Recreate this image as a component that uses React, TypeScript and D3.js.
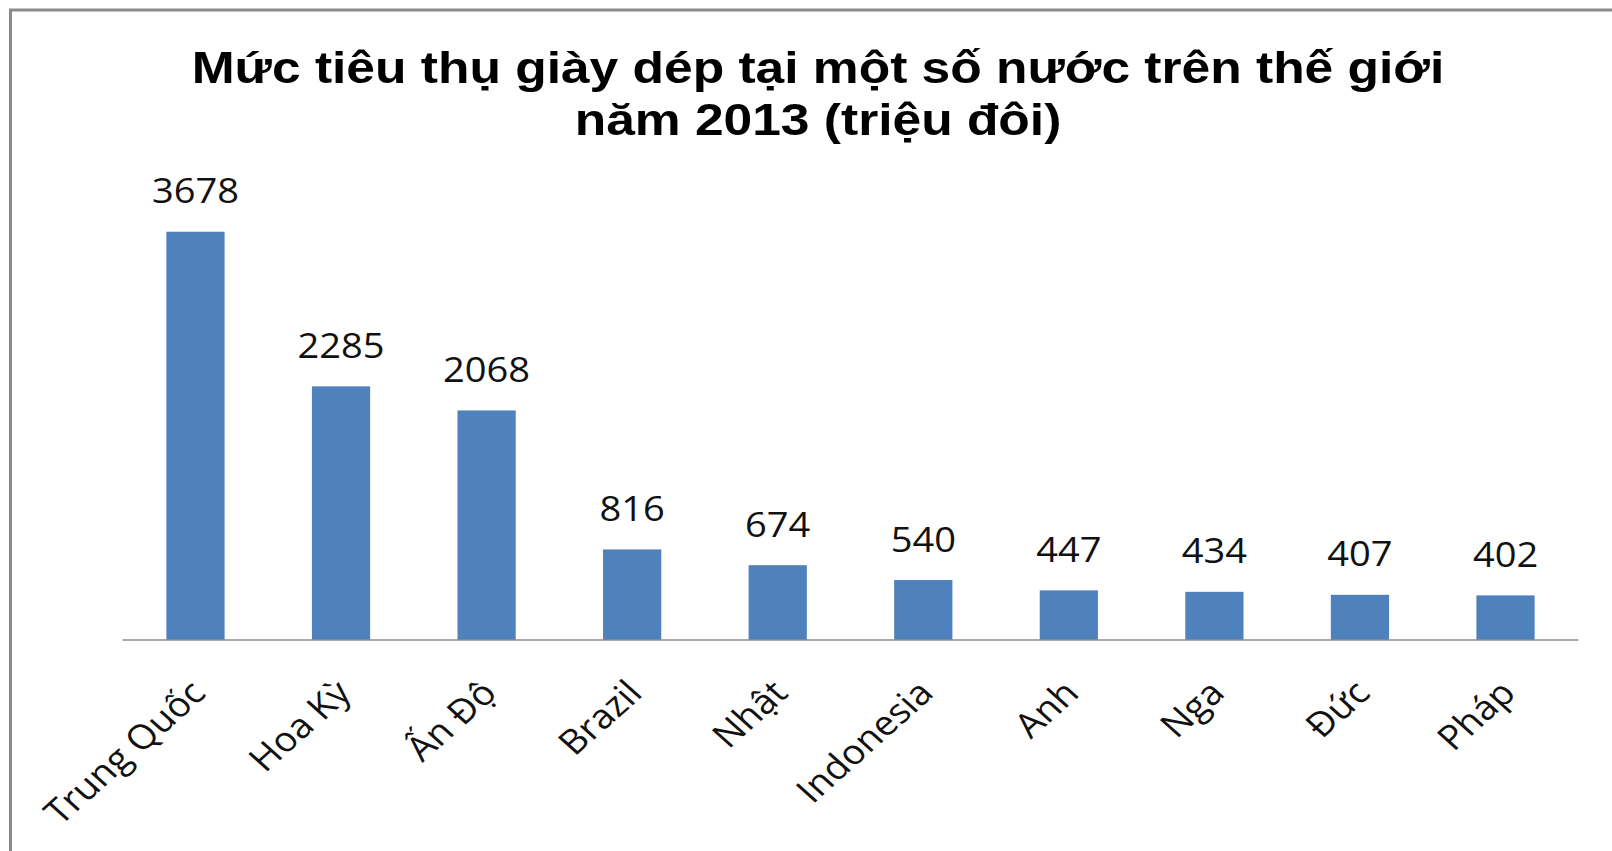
import React from "react";
import * as d3 from "d3";

const categories = ["Trung Quốc", "Hoa Kỳ", "Ấn Độ", "Brazil", "Nhật", "Indonesia", "Anh", "Nga", "Đức", "Pháp"];
const values = [3678, 2285, 2068, 816, 674, 540, 447, 434, 407, 402];
const titleLines = ["Mức tiêu thụ giày dép tại một số nước trên thế giới", "năm 2013 (triệu đôi)"];
const yDomainMax = 4000;

const W = 1612;
const H = 851;
const axisY = 640;
const plotTop = 196;
const plotLeft = 122.7;
const plotRight = 1578.3;
const SX_TITLE = 1.145;
const SX_LABEL = 1.12;

export default function App() {
  const x = d3
    .scaleBand<string>()
    .domain(categories)
    .range([plotLeft, plotRight])
    .paddingInner(0.6)
    .paddingOuter(0.3);
  const y = d3.scaleLinear().domain([0, yDomainMax]).range([axisY, plotTop]);

  const labelFont = "'Open Sans', 'Noto Sans', sans-serif";

  return (
    <svg
      width={W}
      height={H}
      style={{ position: "absolute", left: 0, top: 0, display: "block", background: "#fff" }}
    >
      <rect x={0} y={0} width={W} height={H} fill="#fff" />
      {/* chart frame (cut off at right and bottom) */}
      <path d={`M10.5,${H + 10} L10.5,10 L${W + 10},10`} fill="none" stroke="#8a8a8a" strokeWidth={3} />

      {titleLines.map((t, i) => (
        <text
          key={i}
          transform={`translate(818,${i === 0 ? 82.7 : 135}) scale(${SX_TITLE},1)`}
          textAnchor="middle"
          fontFamily="'Liberation Sans', Arial, sans-serif"
          fontWeight="bold"
          fontSize={45}
          fill="#000"
        >
          {t}
        </text>
      ))}

      {categories.map((c, i) => (
        <rect
          key={c}
          x={x(c)!}
          y={y(values[i])}
          width={x.bandwidth()}
          height={axisY - y(values[i])}
          fill="#4F81BD"
        />
      ))}

      <line x1={plotLeft} x2={plotRight} y1={axisY} y2={axisY} stroke="#8c8c8c" strokeWidth={1.5} />

      {categories.map((c, i) => {
        const cx = x(c)! + x.bandwidth() / 2;
        return (
          <text
            key={"v" + c}
            transform={`translate(${cx},${y(values[i]) - 28.4}) scale(${SX_LABEL},1)`}
            textAnchor="middle"
            fontFamily={labelFont}
            fontSize={34}
            fill="#111"
          >
            {values[i]}
          </text>
        );
      })}

      {categories.map((c) => {
        const cx = x(c)! + x.bandwidth() / 2;
        return (
          <text
            key={"c" + c}
            transform={`translate(${cx + 12},695) scale(${SX_LABEL},1) rotate(-45)`}
            textAnchor="end"
            fontFamily={labelFont}
            fontSize={34}
            fill="#111"
          >
            {c}
          </text>
        );
      })}
    </svg>
  );
}
